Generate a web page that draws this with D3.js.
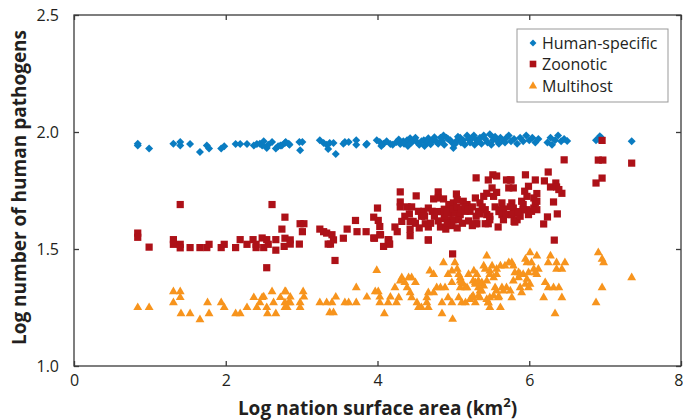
<!DOCTYPE html>
<html>
<head>
<meta charset="utf-8">
<script src="https://cdn.jsdelivr.net/npm/d3@7"></script>
<style>
	body { margin: 0; background: #fff; }
	svg text { font-family: "Open Sans", "Noto Sans", sans-serif; fill: #231f20; }
</style>
</head>
<body>
<svg id="chart" width="683" height="420"></svg>
<script>
// tick labels
var xTicks = [0, 2, 4, 6, 8],
	yTicks = [1.0, 1.5, 2.0, 2.5];

var seriesNames = ["Human-specific", "Zoonotic", "Multihost"];

// [log area, log pathogens]
var humanSpecific = [
	[0.84,1.942],[0.84,1.950],[0.99,1.930],[1.31,1.950],[1.40,1.957],[1.40,1.942],[1.53,1.949],[1.66,1.915],
	[1.75,1.942],[1.78,1.930],[1.94,1.930],[1.98,1.939],[2.13,1.949],[2.19,1.949],[2.28,1.949],[2.37,1.942],
	[2.41,1.949],[2.45,1.950],[2.48,1.942],[2.50,1.960],[2.54,1.932],[2.56,1.945],[2.61,1.957],[2.66,1.930],
	[2.69,1.939],[2.74,1.942],[2.79,1.957],[2.83,1.950],[2.72,1.942],[2.78,1.953],[2.84,1.945],[2.97,1.957],
	[3.01,1.957],[2.98,1.922],[3.24,1.965],[3.29,1.953],[3.33,1.945],[3.37,1.953],[3.42,1.953],[3.35,1.927],
	[3.45,1.906],[3.57,1.957],[3.62,1.957],[3.55,1.950],[3.72,1.965],[3.72,1.946],[3.85,1.946],[3.86,1.950],
	[3.99,1.965],[4.03,1.957],[4.08,1.950],[4.17,1.949],[4.25,1.957],[4.30,1.949],[4.34,1.960],[4.39,1.965],
	[4.43,1.973],[4.47,1.965],[4.52,1.957],[4.61,1.965],[4.67,1.973],[4.73,1.965],[4.78,1.957],[4.83,1.975],
	[4.87,1.985],[4.91,1.975],[4.96,1.965],[5.00,1.932],[5.05,1.965],[5.09,1.975],[5.13,1.965],[5.18,1.985],
	[5.27,1.985],[5.31,1.965],[5.35,1.975],[5.40,1.985],[5.48,1.990],[5.53,1.975],[5.57,1.965],[5.62,1.975],
	[5.70,1.975],[4.05,1.940],[4.12,1.960],[4.20,1.945],[4.28,1.968],[4.35,1.950],[4.40,1.940],[4.45,1.955],
	[4.50,1.975],[4.55,1.945],[4.58,1.960],[4.62,1.940],[4.66,1.955],[4.70,1.948],[4.75,1.978],[4.80,1.950],
	[4.85,1.962],[4.88,1.945],[4.93,1.970],[4.98,1.955],[5.02,1.948],[5.06,1.980],[5.10,1.955],[5.15,1.945],
	[5.20,1.970],[5.22,1.955],[5.25,1.975],[5.28,1.945],[5.33,1.960],[5.37,1.950],[5.42,1.970],[5.45,1.955],
	[5.50,1.945],[5.52,1.965],[5.55,1.980],[5.60,1.950],[5.65,1.965],[5.68,1.955],[5.73,1.985],[5.76,1.960],
	[5.80,1.970],[5.84,1.950],[5.88,1.975],[5.92,1.960],[5.96,1.985],[6.00,1.965],[6.04,1.975],[6.08,1.955],
	[6.12,1.970],[6.24,1.955],[6.28,1.975],[6.30,1.945],[6.34,1.965],[6.38,1.985],[6.42,1.960],[6.46,1.970],
	[6.50,1.962],[6.88,1.965],[6.91,1.970],[6.93,1.982],[6.95,1.975],[7.35,1.960]
];

var zoonotic = [
	[0.84,1.568],[0.84,1.550],[0.99,1.508],[1.40,1.690],[1.31,1.540],[1.31,1.520],[1.40,1.520],[1.40,1.505],
	[1.53,1.506],[1.66,1.506],[1.75,1.506],[1.78,1.520],[1.94,1.506],[1.98,1.520],[2.13,1.506],[2.19,1.540],
	[2.28,1.520],[2.36,1.540],[2.40,1.520],[2.40,1.506],[2.48,1.547],[2.50,1.506],[2.54,1.540],[2.56,1.520],
	[2.61,1.690],[2.66,1.540],[2.66,1.495],[2.54,1.420],[2.74,1.585],[2.78,1.636],[2.78,1.546],[2.85,1.539],
	[2.77,1.511],[2.85,1.521],[2.97,1.521],[2.98,1.608],[3.03,1.608],[3.01,1.574],[3.24,1.585],[3.29,1.574],
	[3.33,1.568],[3.40,1.561],[3.42,1.539],[3.38,1.521],[3.35,1.521],[3.44,1.451],[3.55,1.546],[3.60,1.585],
	[3.71,1.622],[3.73,1.574],[3.85,1.574],[3.95,1.636],[4.00,1.675],[4.01,1.622],[4.03,1.596],[4.03,1.561],
	[3.96,1.546],[4.08,1.511],[4.15,1.539],[4.15,1.521],[4.67,1.539],[4.99,1.479],
	[6.46,1.881],[6.25,1.829],[5.95,1.817],[6.08,1.795],[6.20,1.791],[6.35,1.782],[6.28,1.765],[6.36,1.765],
	[6.43,1.738],[6.39,1.754],[6.32,1.701],[6.37,1.650],[6.24,1.637],[6.19,1.607],[6.33,1.538],
	[5.52,1.817],[5.57,1.812],[5.46,1.795],[5.30,1.804],[5.70,1.795],[5.76,1.795],[5.73,1.761],[5.79,1.761],
	[5.51,1.761],[5.57,1.742],[5.99,1.768],[5.94,1.747],[6.10,1.737],[6.06,1.718],[5.97,1.725],
	[4.30,1.744],[4.30,1.701],[4.51,1.727],[4.80,1.744],[4.80,1.718],[4.74,1.714],[4.87,1.714],[5.04,1.735],
	[5.29,1.718],[5.40,1.725],[5.44,1.738],[5.53,1.725],
	[3.95,1.547],[4.04,1.561],[4.14,1.540],[4.16,1.521],[4.23,1.594],[4.26,1.574],
	[4.30,1.680],[4.39,1.680],[4.45,1.680],[4.36,1.640],[4.43,1.618],[4.32,1.618],[4.47,1.618],[4.43,1.585],
	[4.43,1.557],[4.54,1.661],[4.61,1.661],[4.67,1.675],[4.72,1.661],[4.63,1.608],[4.67,1.594],[4.67,1.538],
	[4.83,1.594],[4.90,1.585],[4.94,1.690],[5.00,1.697],[5.05,1.711],[4.96,1.654],[5.02,1.654],[5.09,1.647],
	[4.94,1.625],[5.00,1.625],[5.07,1.625],[5.13,1.704],[5.18,1.690],[5.22,1.661],[5.155,1.661],
	[5.35,1.697],[5.33,1.661],[5.42,1.668],[5.29,1.608],[5.31,1.608],[5.44,1.647],[5.46,1.608],[5.48,1.625],
	[5.42,1.608],[5.59,1.594],[5.64,1.697],[5.66,1.671],[5.62,1.668],[5.64,1.647],[5.66,1.625],[5.70,1.647],
	[5.77,1.697],[5.79,1.675],[5.81,1.654],[5.77,1.647],[5.80,1.618],[5.84,1.625],[5.81,1.615],
	[5.90,1.704],[5.92,1.690],[5.97,1.668],[5.92,1.668],[5.88,1.640],[5.99,1.647],[6.03,1.661],[6.06,1.675],
	[6.08,1.697],[6.10,1.704],[6.10,1.668],[5.48,1.640],[5.75,1.795],
	[4.85,1.660],[4.88,1.670],[4.92,1.660],[5.00,1.670],[5.05,1.680],[5.10,1.670],[5.15,1.680],[5.20,1.670],
	[5.25,1.680],[5.30,1.640],[5.35,1.650],[5.38,1.680],[5.55,1.680],[5.60,1.660],[5.75,1.680],[5.85,1.660],
	[4.58,1.640],[4.62,1.640],[4.75,1.640],[4.78,1.660],[4.88,1.630],[4.98,1.600],[5.05,1.590],[5.12,1.610],
	[5.20,1.620],[5.25,1.600],[4.42,1.650],[4.50,1.610],[4.55,1.590],[4.70,1.610],[4.80,1.620],[4.92,1.610],
	[6.91,1.880],[6.97,1.880],[7.35,1.867],[6.88,1.782],[6.96,1.803],[6.96,1.964]
];

var multihost = [
	[0.84,1.254],[0.99,1.254],[1.31,1.322],[1.40,1.322],[1.31,1.275],[1.40,1.297],[1.41,1.228],[1.53,1.228],
	[1.66,1.202],[1.76,1.275],[1.78,1.228],[1.94,1.275],[1.98,1.254],[2.13,1.228],[2.19,1.228],[2.28,1.254],
	[2.37,1.297],[2.41,1.254],[2.45,1.275],[2.48,1.297],[2.50,1.300],[2.54,1.254],[2.55,1.228],[2.61,1.322],
	[2.63,1.275],[2.66,1.228],[2.72,1.297],[2.79,1.322],[2.81,1.254],[2.83,1.275],
	[2.78,1.322],[2.85,1.299],[2.78,1.275],[2.78,1.254],[2.85,1.275],[2.98,1.275],[2.98,1.254],[3.02,1.322],
	[3.03,1.299],[3.24,1.275],[3.33,1.275],[3.37,1.232],[3.42,1.232],[3.40,1.275],[3.45,1.299],[3.57,1.275],
	[3.62,1.275],[3.72,1.275],[3.72,1.339],[3.86,1.299],[3.97,1.322],[4.01,1.322],[3.99,1.413],[4.03,1.299],
	[4.03,1.275],[4.09,1.228],[4.14,1.275],[4.17,1.299],[4.23,1.339],[4.25,1.275],[4.28,1.296],[4.30,1.368],
	[4.32,1.382],[4.36,1.361],[4.39,1.339],[4.41,1.382],[4.43,1.318],[4.45,1.382],[4.45,1.296],[4.50,1.361],
	[4.52,1.275],[4.54,1.254],[4.58,1.254],[4.65,1.275],[4.67,1.254],[4.65,1.296],[4.67,1.318],[4.69,1.411],
	[4.74,1.396],[4.74,1.318],[4.78,1.339],[4.83,1.339],[4.85,1.275],[4.85,1.228],[4.87,1.446],[4.89,1.339],
	[4.93,1.396],[4.98,1.411],[4.98,1.361],[4.93,1.296],[4.98,1.275],[4.99,1.204],[5.02,1.446],[5.05,1.418],
	[5.07,1.396],[5.09,1.382],[5.11,1.361],[5.09,1.339],[5.07,1.296],[5.11,1.275],[5.16,1.339],[5.16,1.275],
	[5.20,1.396],[5.24,1.296],[5.27,1.411],[5.29,1.361],[5.31,1.396],[5.33,1.339],[5.35,1.296],[5.375,1.361],
	[5.40,1.432],[5.42,1.418],[5.44,1.475],[5.46,1.275],[5.48,1.296],[5.48,1.396],[5.51,1.432],[5.53,1.382],
	[5.55,1.339],[5.57,1.418],[5.59,1.296],[5.62,1.432],[5.62,1.254],[5.68,1.432],[5.70,1.339],[5.73,1.446],
	[5.09,1.368],[5.13,1.354],[5.18,1.339],[5.26,1.368],[5.29,1.354],[5.33,1.368],[5.375,1.354],[5.35,1.325],
	[5.40,1.346],[5.44,1.368],[5.48,1.411],[5.22,1.289],[5.26,1.304],[5.29,1.275],[5.33,1.304],[5.375,1.325],
	[5.44,1.289],[5.46,1.275],[5.48,1.254],[5.53,1.304],[5.57,1.325],[5.57,1.396],[5.64,1.339],[5.66,1.325],
	[5.60,1.300],
	[5.75,1.325],[5.77,1.446],[5.77,1.296],[5.79,1.432],[5.79,1.368],[5.81,1.403],[5.86,1.403],[5.86,1.382],
	[5.88,1.396],[5.88,1.339],[5.90,1.318],[5.92,1.396],[5.95,1.461],[5.95,1.354],[5.97,1.446],[5.97,1.375],
	[5.99,1.403],[5.99,1.339],[6.01,1.489],[6.01,1.354],[6.03,1.446],[6.06,1.418],[6.08,1.403],[6.10,1.475],
	[6.10,1.396],[6.12,1.418],[6.19,1.296],[6.21,1.361],[6.25,1.339],[6.25,1.446],[6.28,1.475],[6.32,1.339],
	[6.34,1.228],[6.36,1.446],[6.36,1.418],[6.39,1.339],[6.43,1.296],[6.43,1.418],[6.47,1.446],
	[6.91,1.489],[6.96,1.461],[6.98,1.446],[6.96,1.339],[6.88,1.275],[7.35,1.382]
];

var colors = ["#0a7cc1", "#ad1118", "#f7941d"];

var svg = d3.select("#chart"),
	margin = {top: 15, right: 2, bottom: 54, left: 74},
	width = 683 - margin.left - margin.right,
	height = 420 - margin.top - margin.bottom;

var x = d3.scaleLinear().domain([0, 8]).range([margin.left, margin.left + width]),
	y = d3.scaleLinear().domain([1.0, 2.5]).range([margin.top + height, margin.top]);

// rotated square, like matlab's diamond marker
var diamond = {
	draw: function(context, size) {
		var r = Math.sqrt(size / 2);
		context.moveTo(0, -r);
		context.lineTo(r, 0);
		context.lineTo(0, r);
		context.lineTo(-r, 0);
		context.closePath();
	}
};
var shapes = [diamond, d3.symbolSquare, d3.symbolTriangle],
	sizes = [32, 52, 34];

var allSeries = [humanSpecific, zoonotic, multihost];

allSeries.forEach(function(data, i) {
	svg.append("g")
		.selectAll("path")
		.data(data)
		.enter().append("path")
		.attr("transform", function(d) {
			var dy = i == 2 ? 1 : 0;
			return "translate(" + x(d[0]) + "," + (y(d[1]) + dy) + ")";
		})
		.attr("d", d3.symbol().type(shapes[i]).size(sizes[i]))
		.attr("fill", colors[i]);
});

// box + inward ticks on all sides
var axisColor = "#3a3a3a";
svg.append("rect")
	.attr("x", margin.left).attr("y", margin.top)
	.attr("width", width).attr("height", height)
	.attr("fill", "none").attr("stroke", axisColor).attr("stroke-width", 1.3);

var xAxis = svg.append("g")
	.attr("transform", "translate(0," + (margin.top + height) + ")")
	.call(d3.axisBottom(x).tickValues(xTicks).tickSizeInner(-5).tickSizeOuter(0).tickPadding(9)
		.tickFormat(d3.format("d")));
var xTop = svg.append("g")
	.attr("transform", "translate(0," + margin.top + ")")
	.call(d3.axisTop(x).tickValues(xTicks).tickSizeInner(-5).tickSizeOuter(0).tickFormat(""));
var yAxis = svg.append("g")
	.attr("transform", "translate(" + margin.left + ",0)")
	.call(d3.axisLeft(y).tickValues(yTicks).tickSizeInner(-5).tickSizeOuter(0).tickPadding(15)
		.tickFormat(d3.format(".1f")));
var yRight = svg.append("g")
	.attr("transform", "translate(" + (margin.left + width) + ",0)")
	.call(d3.axisRight(y).tickValues(yTicks).tickSizeInner(-5).tickSizeOuter(0).tickFormat(""));

[xAxis, xTop, yAxis, yRight].forEach(function(g) {
	g.select(".domain").remove();
	g.selectAll("line").attr("stroke", axisColor).attr("stroke-width", 1.3);
	g.selectAll("text")
		.style("font-family", "'Open Sans', sans-serif")
		.style("font-size", "16px")
		.attr("fill", "#3a3a3a");
});

// last x label sits at the window edge, keep it inside
xAxis.selectAll(".tick text")
	.filter(function(d) { return d == 8; })
	.attr("text-anchor", "end")
	.attr("x", 2);

// axis titles
svg.append("text")
	.attr("x", margin.left + width / 2)
	.attr("y", 415)
	.attr("text-anchor", "middle")
	.style("font-size", "19px")
	.style("font-weight", "bold")
	.html('Log nation surface area (km<tspan dy="-8" font-size="13px">2</tspan><tspan dy="8">)</tspan>');

svg.append("text")
	.attr("transform", "translate(26," + (margin.top + height / 2 - 3) + ") rotate(-90)")
	.attr("text-anchor", "middle")
	.style("font-size", "19px")
	.style("font-weight", "bold")
	.text("Log number of human pathogens");

// legend
var legend = svg.append("g").attr("transform", "translate(517,29)");
legend.append("rect")
	.attr("width", 151).attr("height", 73)
	.attr("fill", "#fff").attr("stroke", "#999").attr("stroke-width", 1);

var items = legend.selectAll("g.item")
	.data(seriesNames)
	.enter().append("g")
	.attr("class", "item")
	.attr("transform", function(d, i) { return "translate(0," + [14, 35, 57][i] + ")"; });

items.append("path")
	.attr("transform", "translate(16,0)")
	.attr("d", function(d, i) { return d3.symbol().type(shapes[i]).size([24, 44, 30][i])(); })
	.attr("fill", function(d, i) { return colors[i]; });

items.append("text")
	.attr("x", 25)
	.attr("dy", "0.35em")
	.style("font-size", "16px")
	.text(function(d) { return d; });
</script>
</body>
</html>
